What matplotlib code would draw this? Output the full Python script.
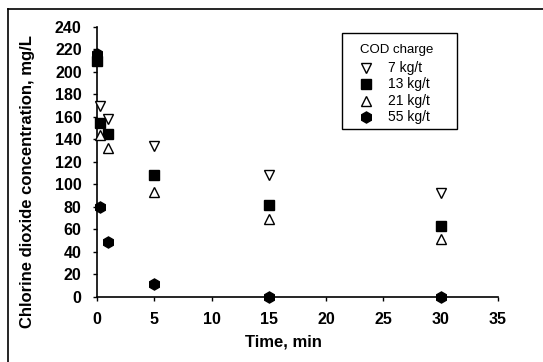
import matplotlib
matplotlib.use("Agg")
import matplotlib.pyplot as plt
from matplotlib.lines import Line2D
from matplotlib.patches import Rectangle

plt.rcParams['font.family'] = ['Liberation Sans', 'DejaVu Sans']

# data
t_7 = [0.26, 1.0, 5, 15, 30]
c_7 = [170, 158, 134, 108, 92]
t_13 = [0, 0.26, 1.0, 5, 15, 30]
c_13 = [210, 155, 145, 108, 82, 63]
t_21 = [0.26, 1.0, 5, 15, 30]
c_21 = [144, 132, 93, 69, 51]
t_55 = [0, 0.3, 1.0, 5, 15, 30]
c_55 = [216, 80, 49, 11, 0, 0]
series_labels = ["7 kg/t", "13 kg/t", "21 kg/t", "55 kg/t"]
legend_title = "COD charge"
x_ticks = [0, 5, 10, 15, 20, 25, 30, 35]
y_ticks = [0, 20, 40, 60, 80, 100, 120, 140, 160, 180, 200, 220, 240]

W, H = 543, 362
fig = plt.figure(figsize=(5.43, 3.62), dpi=100)
ax = fig.add_axes([97/W, 1-296.7/H, (498-97)/W, (296.7-27)/H])

styles = [
    dict(marker='v', ms=7.5, mfc='white', mec='black', mew=1.0),
    dict(marker='s', ms=6.5, mfc='black', mec='black'),
    dict(marker='^', ms=7.5, mfc='white', mec='black', mew=1.0),
    dict(marker='h', ms=8, mfc='black', mec='black'),
]
for (t, c), st, z in zip([(t_7, c_7), (t_13, c_13), (t_21, c_21), (t_55, c_55)], styles, [3, 3, 3, 4]):
    ax.plot(t, c, linestyle='none', clip_on=False, zorder=z, **st)

ax.set_xlim(0, 35)
ax.set_ylim(0, 240)
ax.set_xticks(x_ticks)
ax.set_yticks(y_ticks)
for s in ['top', 'right']:
    ax.spines[s].set_visible(False)
for s in ['left', 'bottom']:
    ax.spines[s].set_linewidth(1.2)
ax.tick_params(direction='out', length=3, width=1, labelsize=11.5, pad=8)
for lab in ax.get_xticklabels() + ax.get_yticklabels():
    lab.set_fontweight('bold')

fig.text(283/W, 1-342/H, "Time, min", ha='center', va='center', fontsize=12, fontweight='bold')
fig.text(28/W, 1-182/H, "Chlorine dioxide concentration, mg/L", ha='center', va='center',
         rotation=90, fontsize=12, fontweight='bold')

# legend (drawn manually)
fig.add_artist(Rectangle((342/W, 1-129.3/H), (457-342)/W, (129.3-33.3)/H, transform=fig.transFigure,
                         facecolor='white', edgecolor='black', lw=1.0, zorder=5))
fig.text(360/W, 1-50/H, legend_title, ha='left', va='center', fontsize=9.5, zorder=6)
for i, (lab, st) in enumerate(zip(series_labels, styles)):
    y = 1 - (68.3 + i*16.1)/H
    fig.add_artist(Line2D([366/W], [y], linestyle='none', transform=fig.transFigure, zorder=6, **st))
    fig.text(388/W, y, lab, ha='left', va='center', fontsize=10, zorder=6)

# outer frame
fig.add_artist(Line2D([8/W, 8/W], [0, 1-9/H], color='black', lw=1.2, transform=fig.transFigure))
fig.add_artist(Line2D([8/W, 1], [1-9/H, 1-9/H], color='black', lw=1.2, transform=fig.transFigure))

fig.savefig("out.png", dpi=100)
